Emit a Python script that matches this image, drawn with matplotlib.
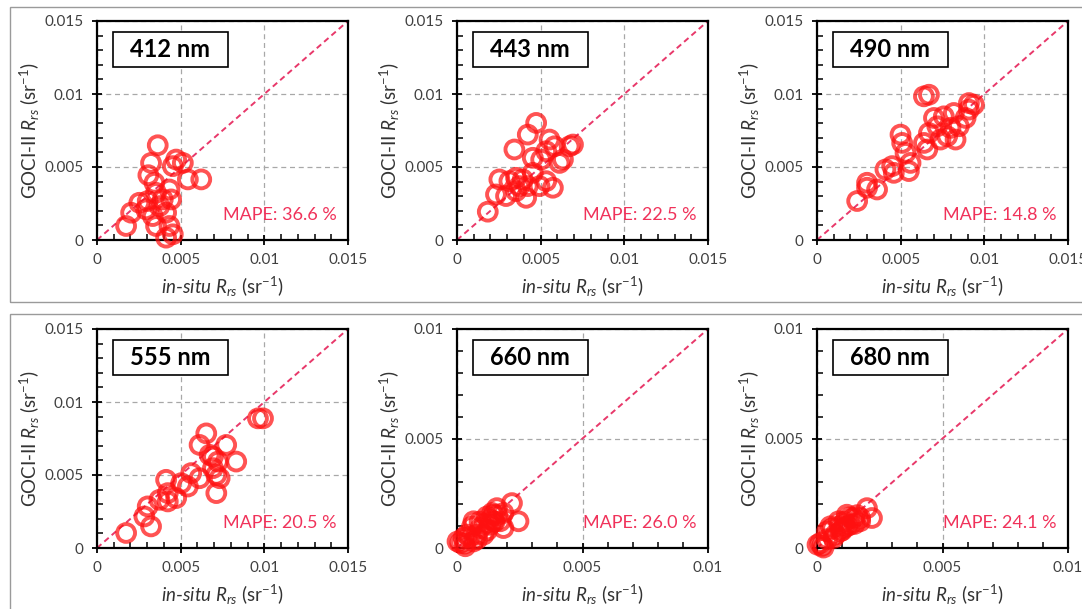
import numpy as np
import matplotlib
matplotlib.use('Agg')
import matplotlib.pyplot as plt
from matplotlib.patches import Rectangle
from matplotlib.ticker import FixedLocator, MultipleLocator, FuncFormatter

# ---- data (sr^-1 x 1e-3) ----
bands = ['412 nm', '443 nm', '490 nm', '555 nm', '660 nm', '680 nm']
mape = [36.6, 22.5, 14.8, 20.5, 26.0, 24.1]
ax_max = [0.015, 0.015, 0.015, 0.015, 0.01, 0.01]

x412 = [3.63, 3.23, 3.07, 4.53, 4.73, 5.13, 5.43, 6.23, 2.04, 1.74, 2.53, 3.03, 3.53,
        3.73, 4.33, 4.43, 3.33, 3.53, 4.33, 4.53, 4.13, 3.43, 3.93, 2.93, 4.13]
y412 = [6.49, 5.28, 4.44, 5.06, 5.51, 5.28, 4.15, 4.15, 1.87, 0.96, 2.55, 2.67, 3.23,
        2.32, 3.46, 2.78, 1.64, 0.96, 0.96, 0.39, 0.16, 3.92, 2.78, 2.10, 1.87]

x443 = [4.73, 4.23, 3.43, 5.53, 5.83, 6.73, 6.93, 4.53, 5.03, 5.33, 6.13, 6.33, 2.53, 3.13,
        3.53, 3.93, 3.73, 2.33, 2.93, 3.53, 4.13, 4.93, 5.73, 5.33, 1.84, 4.53, 4.23]
y443 = [8.02, 7.22, 6.20, 6.88, 6.42, 6.42, 6.54, 5.63, 5.51, 6.08, 5.28, 5.51, 4.15, 4.03,
        4.26, 4.15, 3.69, 3.12, 3.01, 3.35, 2.89, 3.69, 3.58, 4.03, 1.94, 4.60, 3.69]

x490 = [6.39, 6.69, 9.08, 9.38, 8.88, 8.18, 7.58, 6.99, 7.19, 7.98, 8.48, 7.78, 8.28, 7.38, 6.69,
        6.39, 6.59, 4.99, 5.09, 5.29, 5.59, 5.49, 4.49, 4.09, 4.59, 3.59, 2.99, 2.99, 2.40, 9.08]
y490 = [9.84, 9.95, 9.38, 9.27, 8.36, 8.70, 8.47, 8.36, 7.79, 7.68, 7.79, 7.11, 6.88, 6.88, 7.33,
        6.65, 6.20, 7.22, 6.65, 5.97, 5.28, 4.72, 5.06, 4.83, 4.60, 3.46, 3.92, 3.58, 2.67, 8.93]

x555 = [9.62, 9.92, 6.53, 6.13, 7.72, 8.32, 6.73, 7.23, 6.93, 6.13, 7.13, 7.33, 7.13,
        5.63, 5.43, 5.03, 4.13, 4.23, 3.73, 4.73, 3.03, 2.83, 3.23, 1.74, 4.23, 6.93]
y555 = [8.88, 8.88, 7.85, 7.06, 7.06, 5.92, 6.38, 5.92, 5.47, 4.78, 5.01, 4.78, 3.76,
        5.13, 4.21, 4.44, 4.67, 3.76, 3.30, 3.42, 2.85, 2.16, 1.48, 1.03, 3.19, 6.26]

x660 = [2.19, 2.45, 1.85, 1.46, 1.59, 1.19, 0.66, 0.60, 0.93, 1.32, 1.72,
        0.40, 0.79, 0.13, 0.02, 0.33, 0.66, 1.06, 1.46, 1.85, 0.26,
        1.10, 1.30, 1.50, 1.20, 0.90, 1.60, 0.50, 0.80, 1.40, 0.30]
y660 = [2.05, 1.22, 1.60, 1.52, 1.82, 1.44, 1.22, 0.99, 0.91, 1.06, 1.22,
        0.61, 0.61, 0.23, 0.30, 0.08, 0.30, 0.61, 1.22, 0.91, 0.46,
        1.10, 1.30, 1.20, 0.80, 1.20, 1.50, 0.50, 0.40, 1.60, 0.20]

x680 = [1.99, 2.19, 1.46, 1.19, 0.86, 0.53, 0.40, 0.93, 1.32, 1.72,
        0.13, 0.02, 0.26, 0.66, 1.06, 1.72, 0.73,
        1.10, 1.30, 0.90, 1.50, 1.00, 0.60, 0.40, 1.60, 0.20, 1.20]
y680 = [1.82, 1.37, 1.37, 1.52, 1.22, 0.99, 0.76, 0.76, 1.06, 1.22,
        0.23, 0.15, 0.02, 0.46, 0.91, 1.37, 0.61,
        1.20, 1.40, 1.00, 1.10, 0.80, 0.90, 0.40, 1.50, 0.10, 1.00]

xs = [x412, x443, x490, x555, x660, x680]
ys = [y412, y443, y490, y555, y660, y680]

plt.rcParams['font.family'] = ['Lato', 'DejaVu Sans']
plt.rcParams['mathtext.fontset'] = 'custom'
plt.rcParams['mathtext.rm'] = 'Lato'
plt.rcParams['mathtext.it'] = 'Lato:italic'

W, H = 1082, 609
fig = plt.figure(figsize=(W / 100, H / 100), dpi=100)

# gray frames around the two rows
fig.add_artist(Rectangle((10 / W, 1 - 302 / H), 1.0, (302 - 7) / H, transform=fig.transFigure,
                         fill=False, ec='#9a9a9a', lw=1.0))
fig.add_artist(Rectangle((10 / W, -0.05), 1.0, 1 - 314 / H + 0.05, transform=fig.transFigure,
                         fill=False, ec='#9a9a9a', lw=1.0))

lefts = [97, 457, 817]
tops = [21, 329]
aw, ah = 251, 219

fmt = FuncFormatter(lambda v, p: '%g' % round(v, 4))

for i in range(6):
    r, c = divmod(i, 3)
    ax = fig.add_axes([lefts[c] / W, 1 - (tops[r] + ah) / H, aw / W, ah / H])
    m = ax_max[i]
    x = np.array(xs[i]) * 1e-3
    y = np.array(ys[i]) * 1e-3

    ax.set_xlim(0, m)
    ax.set_ylim(0, m)
    ticks = np.arange(0, m + 1e-9, 0.005)
    ax.xaxis.set_major_locator(FixedLocator(ticks))
    ax.yaxis.set_major_locator(FixedLocator(ticks))
    ax.xaxis.set_minor_locator(MultipleLocator(0.001))
    ax.yaxis.set_minor_locator(MultipleLocator(0.001))
    ax.xaxis.set_major_formatter(fmt)
    ax.yaxis.set_major_formatter(fmt)
    ax.tick_params(which='major', direction='inout', length=7, width=1.3,
                   labelsize=11, labelcolor='#404040', pad=6)
    ax.tick_params(which='minor', direction='in', length=4, width=1.1)
    for s in ax.spines.values():
        s.set_linewidth(1.6)

    ax.grid(True, which='major', color='#a8a8a8', lw=0.9, ls=(0, (4, 3)))
    ax.set_axisbelow(True)

    ax.plot([0, m], [0, m], color='#e8386a', lw=1.4, ls=(0, (3, 2)), zorder=2)
    ax.scatter(x, y, s=165, facecolors='none', edgecolors='#ff1010', linewidths=2.8,
               alpha=0.72, zorder=3, clip_on=False)

    ax.add_patch(Rectangle((0.064, 0.79), 0.456, 0.16, transform=ax.transAxes,
                           fill=True, fc='white', ec='black', lw=1.2, zorder=4))
    ax.text(0.292, 0.87, bands[i], transform=ax.transAxes, ha='center', va='center',
            fontsize=17, fontweight='bold', color='black', zorder=5)
    ax.text(0.955, 0.115, 'MAPE: %.1f %%' % mape[i], transform=ax.transAxes,
            ha='right', va='center', fontsize=13, color='#f0325a', zorder=5)

    ax.set_xlabel(r'$in$-$situ$ $R_{rs}$ (sr$^{-1}$)', fontsize=13.5, color='#333333',
                  va='center')
    ax.set_ylabel(r'GOCI-II $R_{rs}$ (sr$^{-1}$)', fontsize=13.5, color='#333333',
                  va='center')
    ax.xaxis.set_label_coords(0.5, -0.215)
    ax.yaxis.set_label_coords(-0.267, 0.5)

fig.savefig('out.png', dpi=100)
